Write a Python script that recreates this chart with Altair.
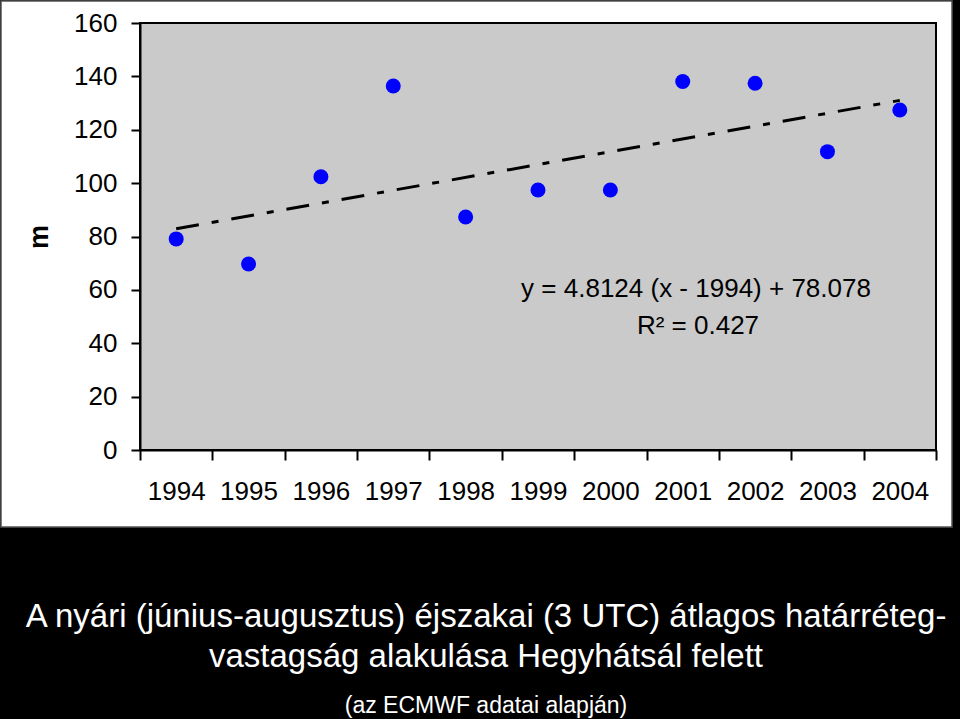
import altair as alt
import pandas as pd

# ---- data ----
years = [1994, 1995, 1996, 1997, 1998, 1999, 2000, 2001, 2002, 2003, 2004]
values = [79.1, 69.7, 102.4, 136.4, 87.3, 97.4, 97.4, 138.1, 137.4, 111.8, 127.4]
trend_years = [1994, 2004]
trend_values = [82.9, 131.0]
y_ticks = [0, 20, 40, 60, 80, 100, 120, 140, 160]
equation_text = "y = 4.8124 (x - 1994) + 78.078"
r2_text = "R² = 0.427"
title_lines = [
    "A nyári (június-augusztus) éjszakai (3 UTC) átlagos határréteg-",
    "vastagság alakulása Hegyhátsál felett",
]
subtitle_text = "(az ECMWF adatai alapján)"
y_title = "m"

# ---- layout ----
W, H = 796, 427
PL, PT, PR, PB = 140, 23, 24, 269
FONT = "Liberation Sans"
PLOT_GRAY = "#CACACA"

df = pd.DataFrame({"year": years, "value": values})
tdf = pd.DataFrame({"year": trend_years, "value": trend_values})
one = pd.DataFrame({"a": [0]})

x_scale = alt.Scale(type="band", domain=years, paddingInner=0, paddingOuter=0)
y_scale = alt.Scale(domain=[y_ticks[0], y_ticks[-1]], nice=False)

x_axis = alt.Axis(
    tickBand="extent",
    labelAngle=0,
    labelAlign="center",
    labelFlush=False,
    labelOverlap=False,
    labelBound=False,
    tickSize=10,
    tickWidth=2,
    tickColor="black",
    domainColor="black",
    domainWidth=2,
    labelPadding=18,
    labelFont=FONT,
    labelFontSize=26,
    labelColor="black",
    grid=False,
    title=None,
    zindex=2,
)
y_axis = alt.Axis(
    values=y_ticks,
    tickSize=9,
    tickWidth=2,
    tickColor="black",
    domainColor="black",
    domainWidth=2,
    labelPadding=14,
    labelFont=FONT,
    labelFontSize=26,
    labelColor="black",
    grid=False,
    title=y_title,
    titleFont=FONT,
    titleFontSize=27,
    titleFontWeight="bold",
    titleColor="black",
    titlePadding=20,
    zindex=2,
)

panel = alt.Chart(one).mark_rect(fill="white", stroke="#555555", strokeWidth=1.5).encode(
    x=alt.value(-139), x2=alt.value(812), y=alt.value(-22), y2=alt.value(504)
)
plot_bg = alt.Chart(one).mark_rect(fill=PLOT_GRAY, stroke="black", strokeWidth=2).encode(
    x=alt.value(0), x2=alt.value(W), y=alt.value(0), y2=alt.value(H)
)

trend = alt.Chart(tdf).mark_line(
    color="black", strokeWidth=3, strokeDash=[23, 13, 7, 13], strokeCap="butt"
).encode(
    x=alt.X("year:O", scale=x_scale, axis=x_axis),
    y=alt.Y("value:Q", scale=y_scale, axis=y_axis),
)

points = alt.Chart(df).mark_circle(color="#0000FF", size=225, opacity=1).encode(
    x=alt.X("year:O", scale=x_scale),
    y=alt.Y("value:Q", scale=y_scale),
)

eq = alt.Chart(one).mark_text(
    font=FONT, fontSize=26, color="black", align="center", baseline="alphabetic"
).encode(x=alt.value(556), y=alt.value(274), text=alt.value(equation_text))

r2 = alt.Chart(one).mark_text(
    font=FONT, fontSize=26, color="black", align="center", baseline="alphabetic"
).encode(x=alt.value(558), y=alt.value(311), text=alt.value(r2_text))

chart = alt.layer(panel, plot_bg, trend, points, eq, r2).properties(
    width=W,
    height=H,
    background="black",
    padding={"left": PL, "top": PT, "right": PR, "bottom": PB},
    autosize=alt.AutoSizeParams(type="none"),
    title=alt.TitleParams(
        text=title_lines,
        subtitle=subtitle_text,
        orient="bottom",
        anchor="middle",
        color="white",
        font=FONT,
        fontSize=33,
        fontWeight="normal",
        lineHeight=40,
        subtitleColor="white",
        subtitleFont=FONT,
        subtitleFontSize=23,
        subtitlePadding=21,
        dx=-52,
        offset=73,
    ),
).configure_view(stroke=None)

chart.save("out.html", embed_options={"renderer": "svg", "actions": False})
